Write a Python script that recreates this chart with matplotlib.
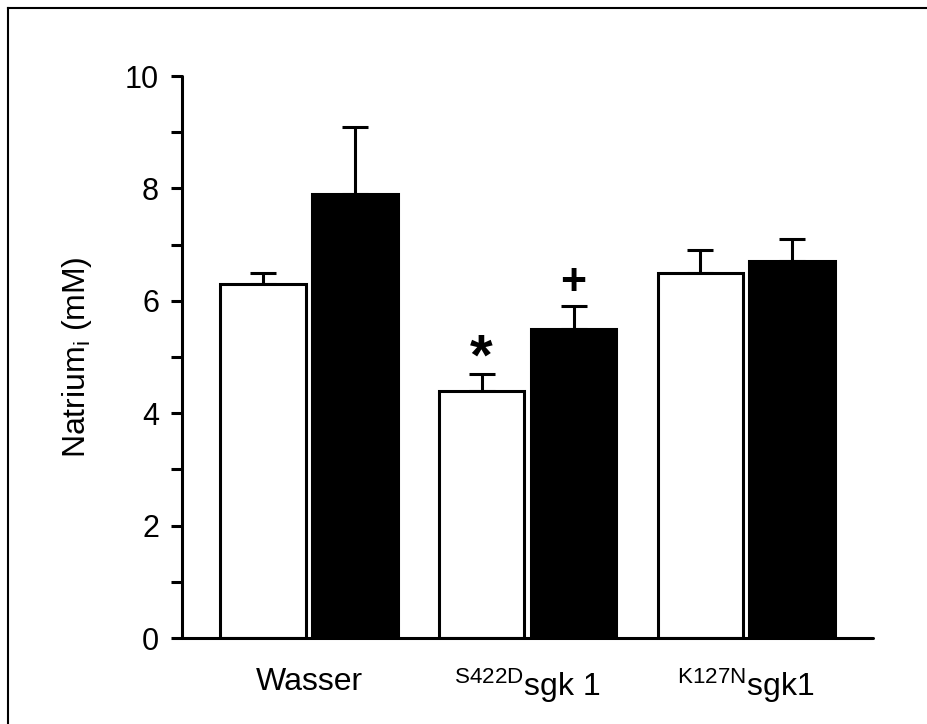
import numpy as np
import matplotlib
matplotlib.use('Agg')
from matplotlib import pyplot as plt
from matplotlib.lines import Line2D

plt.rcParams['font.family'] = ['Liberation Sans', 'DejaVu Sans']
plt.rcParams['mathtext.fontset'] = 'custom'
plt.rcParams['mathtext.rm'] = 'Liberation Sans'
plt.rcParams['mathtext.it'] = 'Liberation Sans'

GROUPS = ['Wasser', r'$^{\mathrm{S422D}}$sgk 1', r'$^{\mathrm{K127N}}$sgk1']
WHITE_MEAN = [6.3, 4.4, 6.5]
WHITE_ERR = [0.2, 0.3, 0.4]
BLACK_MEAN = [7.9, 5.5, 6.7]
BLACK_ERR = [1.2, 0.4, 0.4]
# significance marks: symbol, group, bar, y position, size
MARKS = [('*', 1, 'white', 4.95, 42), ('+', 1, 'black', 6.3, 32)]

LW = 2.2
W = 0.39
OFF = 0.21

#%%
fig = plt.figure(figsize=(9.27, 7.24), dpi=100)
ax = fig.add_axes([182/927, 86/724, 691/927, 562/724])

x = np.arange(len(GROUPS))
ax.bar(x - OFF, WHITE_MEAN, W, color='white', edgecolor='black', linewidth=LW, zorder=2)
ax.bar(x + OFF, BLACK_MEAN, W, color='black', edgecolor='black', linewidth=LW, zorder=2)

ax.errorbar(x - OFF, WHITE_MEAN, yerr=[np.zeros(3), WHITE_ERR], fmt='none', ecolor='black',
            elinewidth=LW, capsize=9.2, capthick=LW, zorder=1)
ax.errorbar(x + OFF, BLACK_MEAN, yerr=[np.zeros(3), BLACK_ERR], fmt='none', ecolor='black',
            elinewidth=LW, capsize=9.2, capthick=LW, zorder=1)

for sym, g, which, yy, fs in MARKS:
    xx = g - OFF if which == 'white' else g + OFF
    ax.text(xx, yy, sym, ha='center', va='center', fontsize=fs, fontweight='bold')

ax.set_xlim(-0.581, 2.58)
ax.set_ylim(0, 10)
ax.set_yticks([0, 2, 4, 6, 8, 10])
ax.set_yticks([1, 3, 5, 7, 9], minor=True)
ax.set_xticks(x)
ax.set_xticklabels(GROUPS, fontsize=23)
ax.tick_params(axis='x', length=0, pad=21)
ax.tick_params(axis='y', which='both', direction='out', length=8, width=LW, labelsize=22, pad=8.5)

for s in ['top', 'right']:
    ax.spines[s].set_visible(False)
for s in ['left', 'bottom']:
    ax.spines[s].set_linewidth(LW)
    ax.spines[s].set_capstyle('round')

ax.set_ylabel(r'Natrium$_{\mathrm{i}}$ (mM)', fontsize=23)
ax.yaxis.set_label_coords(-0.128, 0.5)

# outer frame (left and top only)
fig.add_artist(Line2D([8/927, 8/927], [0, 1 - 8/724], transform=fig.transFigure, color='black', lw=1.5))
fig.add_artist(Line2D([8/927, 1], [1 - 8/724, 1 - 8/724], transform=fig.transFigure, color='black', lw=1.5))

plt.savefig('out.png', dpi=100)
